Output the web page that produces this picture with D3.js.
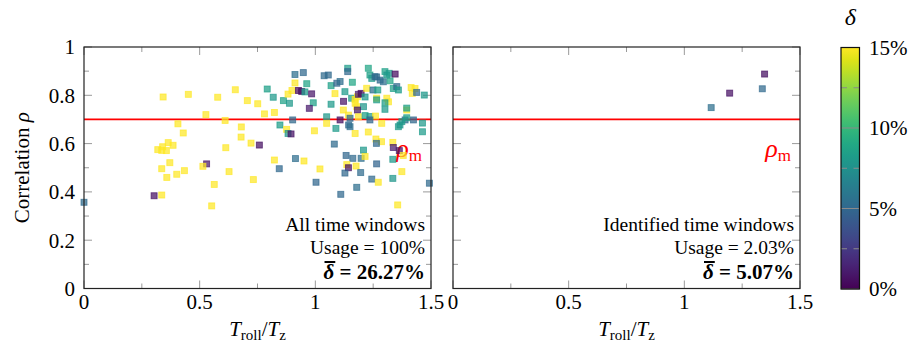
<!DOCTYPE html>
<html>
<head>
<meta charset="utf-8">
<script src="https://cdn.jsdelivr.net/npm/d3@7"></script>
<style>
  body { margin: 0; background: #fff; }
  svg { display: block; font-family: "Liberation Serif", "DejaVu Serif", serif; }
</style>
</head>
<body>
<div id="chart"></div>
<script>
// [T_roll/T_z, correlation rho, delta %] for every time window
const allWindows = [
  [0.342,0.793,22.4],[0.451,0.804,31.2],[0.578,0.792,18.6],[0.654,0.823,27.5],[0.706,0.778,19.9],[0.751,0.765,24.1],
  [0.527,0.720,35.3],[0.610,0.696,21.7],[0.406,0.682,41.0],[0.680,0.669,17.2],[0.429,0.644,29.8],[0.679,0.627,23.6],[0.722,0.602,33.4],
  [0.758,0.594,0.6],[0.364,0.604,38.2],[0.385,0.593,26.3],[0.319,0.575,45.1],[0.336,0.572,30.7],[0.356,0.571,20.5],[0.340,0.587,36.9],
  [0.613,0.583,19.1],[0.371,0.521,28.4],[0.336,0.496,42.6],[0.530,0.516,0.9],[0.514,0.506,25.0],[0.627,0.484,32.1],[0.434,0.488,22.9],
  [0.401,0.473,39.5],[0.358,0.460,27.7],[0.732,0.451,18.3],[0.563,0.431,34.8],[0.303,0.384,0.7],[0.336,0.387,47.2],[0.000,0.357,5.2],
  [0.552,0.342,29.1],[0.780,0.723,21.3],[0.823,0.729,26.9],[0.818,0.792,8.1],[0.792,0.826,8.4],[0.823,0.532,31.6],[0.844,0.496,5.0],
  [0.914,0.538,5.3],[0.951,0.528,24.7],[1.020,0.495,19.6],[1.003,0.440,4.9],[0.847,0.677,8.3],[0.876,0.659,28.0],[0.882,0.642,7.9],
  [0.895,0.640,0.8],[0.902,0.698,5.1],[0.862,0.778,8.6],[0.888,0.767,8.0],[0.882,0.805,23.2],[0.899,0.820,17.8],[0.912,0.851,30.4],
  [0.927,0.820,0.2],[0.941,0.816,0.5],[0.955,0.814,8.2],[0.963,0.848,8.7],[0.984,0.806,0.9],[0.912,0.886,5.4],[0.948,0.894,5.0],
  [1.038,0.881,5.2],[0.991,0.769,8.4],[0.974,0.746,1.0],[0.996,0.653,36.5],[1.049,0.711,8.0],[1.049,0.684,20.8],[1.056,0.884,5.1],
  [1.068,0.840,8.5],[1.093,0.850,4.8],[1.107,0.857,5.3],[1.085,0.807,25.9],[1.128,0.815,8.2],[1.160,0.854,8.9],[1.140,0.912,8.3],
  [1.140,0.898,5.0],[1.229,0.912,8.8],[1.068,0.763,8.1],[1.122,0.775,0.8],[1.157,0.788,8.4],[1.172,0.783,22.0],[1.182,0.794,18.9],
  [1.186,0.804,1.2],[1.198,0.808,0.4],[1.172,0.767,33.0],[1.179,0.753,27.1],[1.215,0.793,8.0],[1.208,0.753,7.8],[1.121,0.739,19.4],
  [1.182,0.739,0.9],[1.222,0.829,24.4],[1.249,0.822,5.4],[1.236,0.884,8.6],[1.244,0.870,8.1],[1.258,0.877,5.0],[1.265,0.788,29.3],
  [1.265,0.781,8.3],[1.107,0.698,0.6],[1.143,0.718,21.5],[1.150,0.705,5.2],[1.186,0.711,38.7],[1.215,0.716,8.4],[1.236,0.712,8.0],
  [1.260,0.714,17.5],[1.236,0.698,4.9],[1.144,0.677,5.1],[1.150,0.670,5.3],[1.089,0.663,8.2],[1.172,0.642,26.2],[1.229,0.648,31.9],
  [1.262,0.619,23.8],[1.286,0.608,40.3],[1.264,0.601,5.0],[1.082,0.598,5.2],[1.208,0.573,8.0],[1.133,0.551,4.9],[1.162,0.539,5.1],
  [1.198,0.539,5.3],[1.215,0.547,28.6],[1.136,0.513,20.2],[1.143,0.500,0.7],[1.176,0.507,34.1],[1.128,0.478,5.0],[1.196,0.480,5.2],
  [1.265,0.516,4.8],[1.244,0.453,5.1],[1.272,0.440,22.7],[1.335,0.456,7.9],[1.374,0.484,37.4],[1.110,0.390,5.0],[1.179,0.419,5.3],
  [1.493,0.436,5.1],[1.356,0.346,43.8],[1.335,0.605,25.5],[1.337,0.584,1.1],[1.363,0.571,0.8],[1.380,0.551,19.7],[1.335,0.535,8.0],
  [1.463,0.649,8.2],[1.463,0.685,8.0],[1.424,0.698,5.0],[1.388,0.698,5.2],[1.374,0.691,8.3],[1.366,0.677,7.9],[1.359,0.670,8.1],
  [1.395,0.707,8.5],[1.287,0.684,30.0],[1.395,0.739,24.9],[1.395,0.747,8.4],[1.301,0.742,8.1],[1.309,0.788,18.1],[1.316,0.773,27.8],
  [1.301,0.769,8.3],[1.414,0.832,32.6],[1.431,0.828,21.1],[1.419,0.808,26.6],[1.438,0.812,5.1],[1.471,0.801,8.0],[1.337,0.828,8.6],
  [1.352,0.836,5.0],[1.359,0.822,8.2],[1.270,0.822,8.4],[1.265,0.876,5.2],[1.280,0.863,5.0],[1.294,0.856,5.3],[1.323,0.860,8.9],
  [1.301,0.898,8.5],[1.309,0.884,8.0],[1.319,0.891,8.2],[1.345,0.888,0.5]
];

// only the identified time windows
const identifiedWindows = [
  [1.116,0.749,5.4],[1.196,0.809,0.7],[1.337,0.827,5.1],[1.347,0.888,0.6]
];

const rhoM = 0.7;
const xTicks = [0, 0.5, 1, 1.5];
const xMinorTicks = [0.25, 0.75, 1.25];
const yTicks = [0, 0.2, 0.4, 0.6, 0.8, 1];
const yMinorTicks = [0.1, 0.3, 0.5, 0.7, 0.9];
const cbTicks = [0, 5, 10, 15];
const cbMinorTicks = [2.5, 7.5, 12.5];

const panelTitles = ['All time windows', 'Identified time windows'];
const usageLabels = ['Usage = 100%', 'Usage = 2.03%'];
const meanDeltaLabels = ['26.27%', '5.07%'];

const width = 909, height = 355;
const plotTop = 47, plotBottom = 288.5;
const fs = 21;

const svg = d3.select('#chart').append('svg')
  .attr('width', width)
  .attr('height', height);

const y = d3.scaleLinear().domain([0, 1]).range([plotBottom, plotTop]);
const color = d3.scaleSequential(d3.interpolateViridis).domain([0, 15]).clamp(true);

function drawPanel(i, left, right, data, showY) {
  const x = d3.scaleLinear().domain([0, 1.5]).range([left, right]);
  const g = svg.append('g');

  // ticks inside the box, on all four sides
  const tick = (x1, y1, x2, y2) => g.append('line')
    .attr('x1', x1).attr('y1', y1).attr('x2', x2).attr('y2', y2)
    .attr('stroke', '#9a9a9a').attr('stroke-width', 1);
  xTicks.forEach(t => { tick(x(t), plotBottom, x(t), plotBottom - 8); tick(x(t), plotTop, x(t), plotTop + 8); });
  xMinorTicks.forEach(t => { tick(x(t), plotBottom, x(t), plotBottom - 5); tick(x(t), plotTop, x(t), plotTop + 5); });
  yTicks.forEach(t => { tick(left, y(t), left + 8, y(t)); tick(right, y(t), right - 8, y(t)); });
  yMinorTicks.forEach(t => { tick(left, y(t), left + 5, y(t)); tick(right, y(t), right - 5, y(t)); });

  // rho_m line
  g.append('line')
    .attr('x1', left).attr('x2', right)
    .attr('y1', y(rhoM)).attr('y2', y(rhoM))
    .attr('stroke', '#ff0000').attr('stroke-width', 1.8);

  const rm = g.append('text')
    .attr('x', right - 9).attr('y', 157)
    .attr('text-anchor', 'end')
    .attr('fill', '#ff0000')
    .attr('font-size', 26);
  rm.append('tspan').attr('font-style', 'italic').text('ρ');
  rm.append('tspan').attr('font-size', 17).attr('dy', 4).text('m');

  // marks
  g.selectAll('.pt')
    .data(data)
    .enter().append('rect')
    .attr('class', 'pt')
    .attr('x', d => x(d[0]) - 3)
    .attr('y', d => y(d[1]) - 3)
    .attr('width', 6)
    .attr('height', 6)
    .attr('fill', d => color(d[2]))
    .attr('fill-opacity', 0.72)
    .attr('stroke', d => color(d[2]))
    .attr('stroke-opacity', 0.72)
    .attr('stroke-width', 0.9);

  // frame
  g.append('rect')
    .attr('x', left).attr('y', plotTop)
    .attr('width', right - left).attr('height', plotBottom - plotTop)
    .attr('fill', 'none').attr('stroke', '#222').attr('stroke-width', 1.2);

  // x labels
  xTicks.forEach(t => {
    g.append('text')
      .attr('x', x(t)).attr('y', 309)
      .attr('text-anchor', 'middle')
      .attr('font-size', fs)
      .text(t);
  });
  if (showY) {
    yTicks.forEach(t => {
      g.append('text')
        .attr('x', left - 9).attr('y', y(t))
        .attr('dy', '0.35em')
        .attr('text-anchor', 'end')
        .attr('font-size', fs)
        .text(t);
    });
  }

  const xt = g.append('text')
    .attr('x', (left + right) / 2).attr('y', 336)
    .attr('text-anchor', 'middle')
    .attr('font-size', fs);
  xt.append('tspan').attr('font-style', 'italic').text('T');
  xt.append('tspan').attr('font-size', 15).attr('dy', 4).text('roll');
  xt.append('tspan').attr('dy', -4).text('/');
  xt.append('tspan').attr('font-style', 'italic').text('T');
  xt.append('tspan').attr('font-size', 15).attr('dy', 4).text('z');

  // annotation block
  const ax = right - 6;
  const afs = 19.5;
  g.append('text').attr('x', ax).attr('y', 231)
    .attr('text-anchor', 'end').attr('font-size', afs).text(panelTitles[i]);
  g.append('text').attr('x', ax).attr('y', 254)
    .attr('text-anchor', 'end').attr('font-size', afs).text(usageLabels[i]);
  const md = g.append('text').attr('x', ax).attr('y', 279)
    .attr('text-anchor', 'end').attr('font-size', fs).attr('font-weight', 'bold');
  md.append('tspan').attr('font-style', 'italic').text('δ');
  md.append('tspan').text(' = ' + meanDeltaLabels[i]);
  const ext = md.node().getExtentOfChar(0);
  g.append('line')
    .attr('x1', ext.x + 1).attr('x2', ext.x + ext.width + 1)
    .attr('y1', ext.y + 2).attr('y2', ext.y + 2)
    .attr('stroke', '#000').attr('stroke-width', 2);
}

drawPanel(0, 84, 431, allWindows, true);
drawPanel(1, 453, 800, identifiedWindows, false);

// y title
svg.append('text')
  .attr('transform', 'translate(29,' + ((plotTop + plotBottom) / 2) + ') rotate(-90)')
  .attr('text-anchor', 'middle')
  .attr('font-size', fs)
  .call(t => {
    t.append('tspan').text('Correlation ');
    t.append('tspan').attr('font-style', 'italic').text('ρ');
  });

// colorbar
const cbX = 841, cbW = 18.5;
const cb = d3.scaleLinear().domain([0, 15]).range([plotBottom + 0.5, plotTop + 0.5]);
const defs = svg.append('defs');
const grad = defs.append('linearGradient')
  .attr('id', 'viridis')
  .attr('x1', 0).attr('y1', 1).attr('x2', 0).attr('y2', 0);
d3.range(0, 1.0001, 0.05).forEach(t => {
  grad.append('stop').attr('offset', t).attr('stop-color', d3.interpolateViridis(t));
});
svg.append('rect')
  .attr('x', cbX).attr('y', cb(15))
  .attr('width', cbW).attr('height', cb(0) - cb(15))
  .attr('fill', 'url(#viridis)');
cbTicks.forEach(t => {
  svg.append('line')
    .attr('x1', cbX).attr('x2', cbX + cbW)
    .attr('y1', cb(t)).attr('y2', cb(t))
    .attr('stroke', '#8a8a8a').attr('stroke-width', 1);
  svg.append('text')
    .attr('x', cbX + 28).attr('y', cb(t))
    .attr('dy', '0.35em')
    .attr('font-size', fs)
    .text(t + '%');
});
cbMinorTicks.forEach(t => {
  [[cbX, cbX + 6], [cbX + cbW - 6, cbX + cbW]].forEach(s => {
    svg.append('line')
      .attr('x1', s[0]).attr('x2', s[1])
      .attr('y1', cb(t)).attr('y2', cb(t))
      .attr('stroke', '#8a8a8a').attr('stroke-width', 1);
  });
});
svg.append('rect')
  .attr('x', cbX).attr('y', cb(15))
  .attr('width', cbW).attr('height', cb(0) - cb(15))
  .attr('fill', 'none').attr('stroke', '#111').attr('stroke-width', 1.2);
svg.append('text')
  .attr('x', cbX + cbW / 2).attr('y', 25)
  .attr('text-anchor', 'middle')
  .attr('font-size', 24)
  .attr('font-style', 'italic')
  .text('δ');
</script>
</body>
</html>
